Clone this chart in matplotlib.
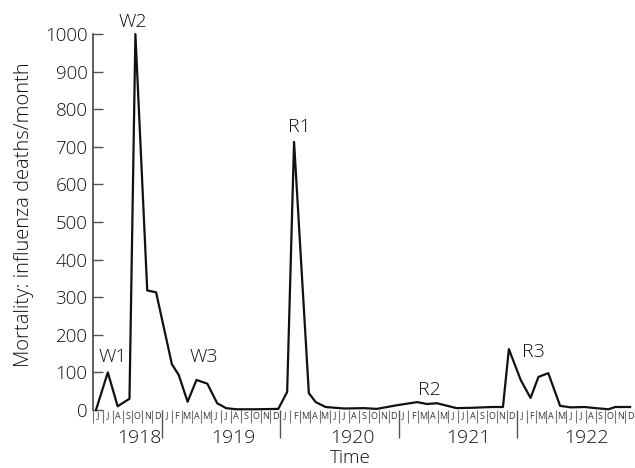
import matplotlib
matplotlib.use("Agg")
import matplotlib.pyplot as plt

plt.rcParams['font.family'] = ['Open Sans', 'DejaVu Sans']
plt.rcParams['font.weight'] = 'light'

# месяцы отсчитываются от июня 1918 (0 = Jun 1918)
months = [-0.2, 1.0, 2.0, 3.2, 3.8, 5.0, 5.9, 7.5, 8.2, 9.1, 10.0, 11.1, 12.1, 13.0,
          14.0, 16.0, 18.3, 19.2, 19.9, 21.4, 22.1, 23.1, 25.0, 27.0, 28.3, 30.4,
          32.4, 33.4, 34.4, 36.4, 38.0, 40.0, 41.1, 41.7, 42.9, 43.9, 44.7, 45.7,
          46.9, 48.0, 49.4, 50.5, 51.8, 52.5, 54.0]
deaths = [0, 100, 10, 30, 1000, 318, 313, 122, 93, 22, 80, 70, 18, 5,
          2, 2, 3, 48, 713, 45, 21, 8, 4, 5, 3, 13,
          21, 16, 18, 5, 6, 8, 8, 162, 80, 32, 88, 98,
          11, 7, 8, 5, 2, 8, 8]

month_letters = list("JJASOND") + list("JFMAMJJASOND") * 4
years = ["1918", "1919", "1920", "1921", "1922"]
year_pos = [4.2, 13.7, 25.8, 37.6, 49.6]

# подписи волн
wave_names = ["W1", "W2", "W3", "R1", "R2", "R3"]
wave_x = [1.5, 3.5, 10.75, 20.4, 33.6, 44.2]
wave_y = [141, 1032, 141, 753, 53, 154]

fig = plt.figure(figsize=(6.35, 4.68), dpi=100)
ax = fig.add_axes([0.1465, 0.1239, 0.8535, 0.8034])

ax.plot(months, deaths, color='#111111', linewidth=1.6, clip_on=False)

ax.set_xlim(-0.5, 53.97)
ax.set_ylim(0, 1000)
ax.set_yticks(range(0, 1001, 100))
ax.tick_params(axis='y', direction='in', length=7, width=1, color='#555555',
               labelsize=13.5, labelcolor='#111111', pad=4)

for s in ['top', 'right', 'bottom']:
    ax.spines[s].set_visible(False)
ax.spines['left'].set_color('#444444')
ax.spines['left'].set_linewidth(1.2)

# границы месяцев и годов как засечки
ax.set_xticks([6.5, 18.5, 30.5, 42.5])
ax.set_xticks([m - 0.5 for m in range(len(month_letters) + 1)], minor=True)
ax.tick_params(axis='x', which='major', direction='out', length=20, width=1,
               color='#555555', labelbottom=False)
ax.tick_params(axis='x', which='minor', direction='out', length=9, width=0.8,
               color='#777777')

tr = ax.get_xaxis_transform()
for i, letter in enumerate(month_letters):
    ax.text(i, -0.016, letter, transform=tr, ha='center', va='center',
            fontsize=6.5, fontweight='normal', color='#333333', clip_on=False)
for y, xp in zip(years, year_pos):
    ax.text(xp, -0.075, y, transform=tr, ha='center', va='center',
            fontsize=14, color='#111111')
ax.text(25.6, -0.128, "Time", transform=tr, ha='center', va='center',
        fontsize=13.5, color='#111111')

for name, xv, yv in zip(wave_names, wave_x, wave_y):
    ax.text(xv, yv, name, ha='center', va='center', fontsize=14,
            color='#111111', clip_on=False)

ax.set_ylabel("Mortality: influenza deaths/month", fontsize=14.5,
              fontweight='light', color='#111111')
ax.yaxis.set_label_coords(-0.108, 0.52)

fig.savefig("out.png", dpi=100)
